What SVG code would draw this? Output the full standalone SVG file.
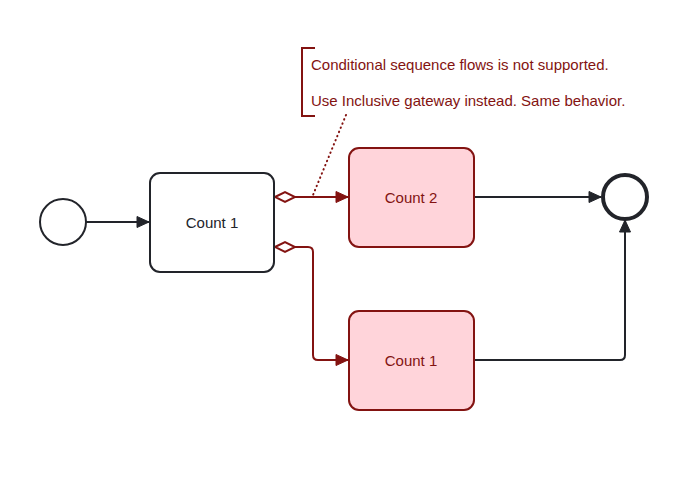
<svg xmlns="http://www.w3.org/2000/svg" width="700" height="496" viewBox="0 0 700 496">
<defs>
<style>
.task{stroke-width:2;}
.blk{fill:#fff;stroke:#22242a;}
.red{fill:#ffd4da;stroke:#831311;}
.lbl{font-family:Arial,"Liberation Sans",sans-serif;font-size:15px;text-anchor:middle;dominant-baseline:central;}
.flow{fill:none;stroke-width:2;stroke-linejoin:round;}
.fb{stroke:#22242a;}
.fr{stroke:#831311;}
.note{font-family:Arial,"Liberation Sans",sans-serif;font-size:15px;fill:#831311;}
</style>
<marker id="ab" viewBox="0 0 14 14" refX="13" refY="7" markerWidth="14" markerHeight="14" markerUnits="userSpaceOnUse" orient="auto"><path d="M1 1.5 L13 7 L1 12.5 Z" fill="#22242a" stroke="#22242a" stroke-width="1" stroke-linejoin="round"/></marker>
<marker id="ar" viewBox="0 0 14 14" refX="13" refY="7" markerWidth="14" markerHeight="14" markerUnits="userSpaceOnUse" orient="auto"><path d="M1 1.5 L13 7 L1 12.5 Z" fill="#831311" stroke="#831311" stroke-width="1" stroke-linejoin="round"/></marker>
<marker id="dm" viewBox="0 0 24 14" refX="1" refY="7" markerWidth="24" markerHeight="14" markerUnits="userSpaceOnUse" orient="auto"><path d="M1 7 L11 2 L21 7 L11 12 Z" fill="#fff" stroke="#831311" stroke-width="2"/></marker>
</defs>
<g id="connectors">
<path class="flow fb" d="M86 222 L149 222" marker-end="url(#ab)"/>
<path class="flow fr" d="M275 197 L348 197" marker-start="url(#dm)" marker-end="url(#ar)"/>
<path class="flow fr" d="M275 247 L308 247 Q313 247 313 252 L313 355 Q313 360 318 360 L348 360" marker-start="url(#dm)" marker-end="url(#ar)"/>
<path class="flow fb" d="M475 197 L601 197" marker-end="url(#ab)"/>
<path class="flow fb" d="M475 360 L620 360 Q625 360 625 355 L625 220" marker-end="url(#ab)"/>
<path d="M346 115 L313 195" fill="none" stroke="#831311" stroke-width="2" stroke-dasharray="0.5 4" stroke-linecap="round"/>
</g>
<g id="start"><circle cx="63" cy="222" r="23" fill="#fff" stroke="#22242a" stroke-width="2"/></g>
<g id="task1"><rect class="task blk" x="150" y="173" width="124" height="99" rx="10"/><text class="lbl" x="212" y="222" fill="#22242a">Count 1</text></g>
<g id="task2"><rect class="task red" x="349" y="148" width="125" height="99" rx="10"/><text class="lbl" x="411" y="197" fill="#831311">Count 2</text></g>
<g id="task3"><rect class="task red" x="349" y="311" width="125" height="99" rx="10"/><text class="lbl" x="411" y="360" fill="#831311">Count 1</text></g>
<g id="end"><circle cx="625" cy="197" r="22" fill="#fff" stroke="#22242a" stroke-width="4"/></g>
<g id="annotation">
<path d="M315 48 L302 48 L302 116 L315 116" fill="none" stroke="#831311" stroke-width="2"/>
<text class="note" x="311" y="70">Conditional sequence flows is not supported.</text>
<text class="note" x="311" y="106">Use Inclusive gateway instead. Same behavior.</text>
</g>
</svg>
